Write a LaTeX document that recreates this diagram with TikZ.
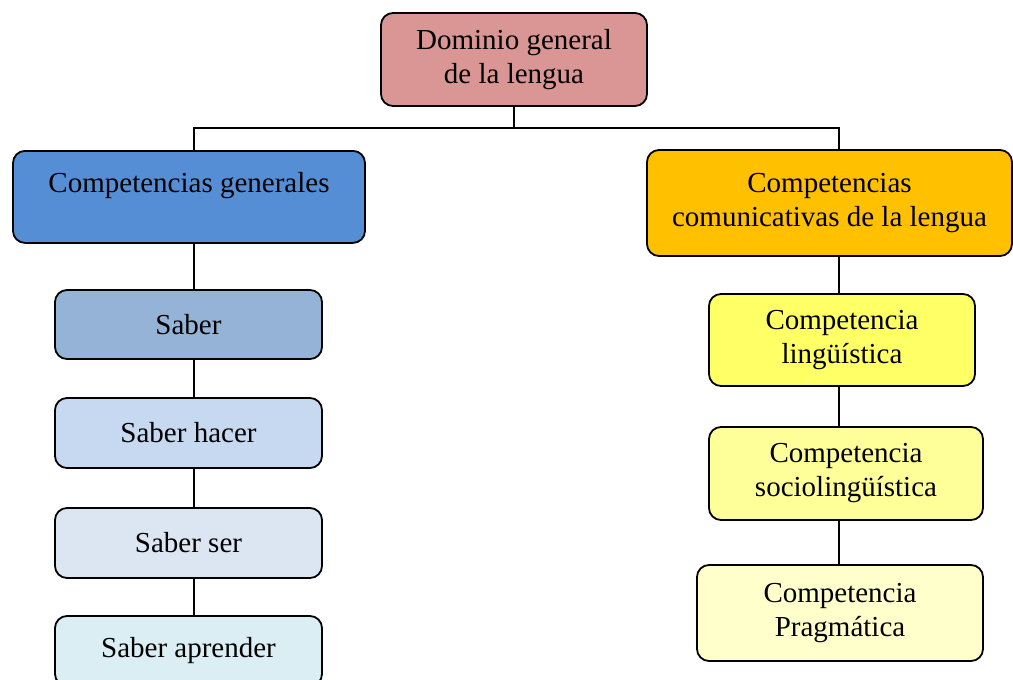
\documentclass[tikz,border=0pt]{standalone}
\usepackage{fontspec}
\setmainfont{Liberation Serif}
\usepackage{xcolor}
\usepackage{tikz}
\definecolor{cdominio}{HTML}{D99694}
\definecolor{cgenerales}{HTML}{558ED5}
\definecolor{ccomunic}{HTML}{FFC000}
\definecolor{csaber}{HTML}{95B3D7}
\definecolor{chacer}{HTML}{C6D9F1}
\definecolor{cser}{HTML}{DCE6F2}
\definecolor{caprender}{HTML}{DAEEF3}
\definecolor{cling}{HTML}{FFFF66}
\definecolor{csocio}{HTML}{FFFF99}
\definecolor{cprag}{HTML}{FFFFCC}

\tikzset{
  caja/.style={draw=black, line width=0.9pt, rounded corners=6pt, align=center,
    inner sep=0pt, font=\fontsize{14.5}{17}\selectfont},
  linea/.style={line width=0.75pt}
}

\begin{document}
\begin{tikzpicture}[x=0.5pt, y=-0.5pt]
  \useasboundingbox (0,0) rectangle (1013,680);
  \clip (0,0) rectangle (1013,680);

  \coordinate (busL) at (194, 128);
  \coordinate (busR) at (839, 128);

  \node[caja, fill=cdominio, minimum width=133pt, minimum height=46.5pt] (dom) at (514, 59.5) {Dominio general\\de la lengua};

  \node[caja, fill=cgenerales, minimum width=176pt, anchor=north, inner ysep=10pt,
    text height=11pt, text depth=15pt] (gen) at (189, 150) {Competencias generales};
  \node[caja, fill=ccomunic, minimum width=182.5pt, minimum height=53pt] (com) at (829.5, 203) {Competencias\\comunicativas de la lengua};

  \node[caja, fill=csaber, minimum width=133.5pt, minimum height=34.5pt] (saber) at (188.5, 324.5) {Saber};
  \node[caja, fill=chacer, minimum width=133.5pt, minimum height=35pt] (hacer) at (188.5, 433) {Saber hacer};
  \node[caja, fill=cser, minimum width=133.5pt, minimum height=35pt] (ser) at (188.5, 543) {Saber ser};
  \node[caja, fill=caprender, minimum width=133.5pt, minimum height=35pt] (aprender) at (188.5, 651) {Saber aprender};

  \node[caja, fill=cling, minimum width=133pt, minimum height=46pt] (ling) at (842, 340) {Competencia\\lingüística};
  \node[caja, fill=csocio, minimum width=137pt, minimum height=46.5pt] (socio) at (846, 473.5) {Competencia\\sociolingüística};
  \node[caja, fill=cprag, minimum width=143pt, minimum height=48pt] (prag) at (840, 613) {Competencia\\Pragmática};

  \draw[linea] (dom.south) -- (dom.south |- busL);
  \draw[linea] (gen.north -| busL) |- (busR) -- (com.north -| busR);
  \foreach \a/\b in {gen/saber, saber/hacer, hacer/ser, ser/aprender}
    \draw[linea] (\a.south -| busL) -- (\b.north -| busL);
  \foreach \a/\b in {com/ling, ling/socio, socio/prag}
    \draw[linea] (\a.south -| busR) -- (\b.north -| busR);
\end{tikzpicture}
\end{document}
